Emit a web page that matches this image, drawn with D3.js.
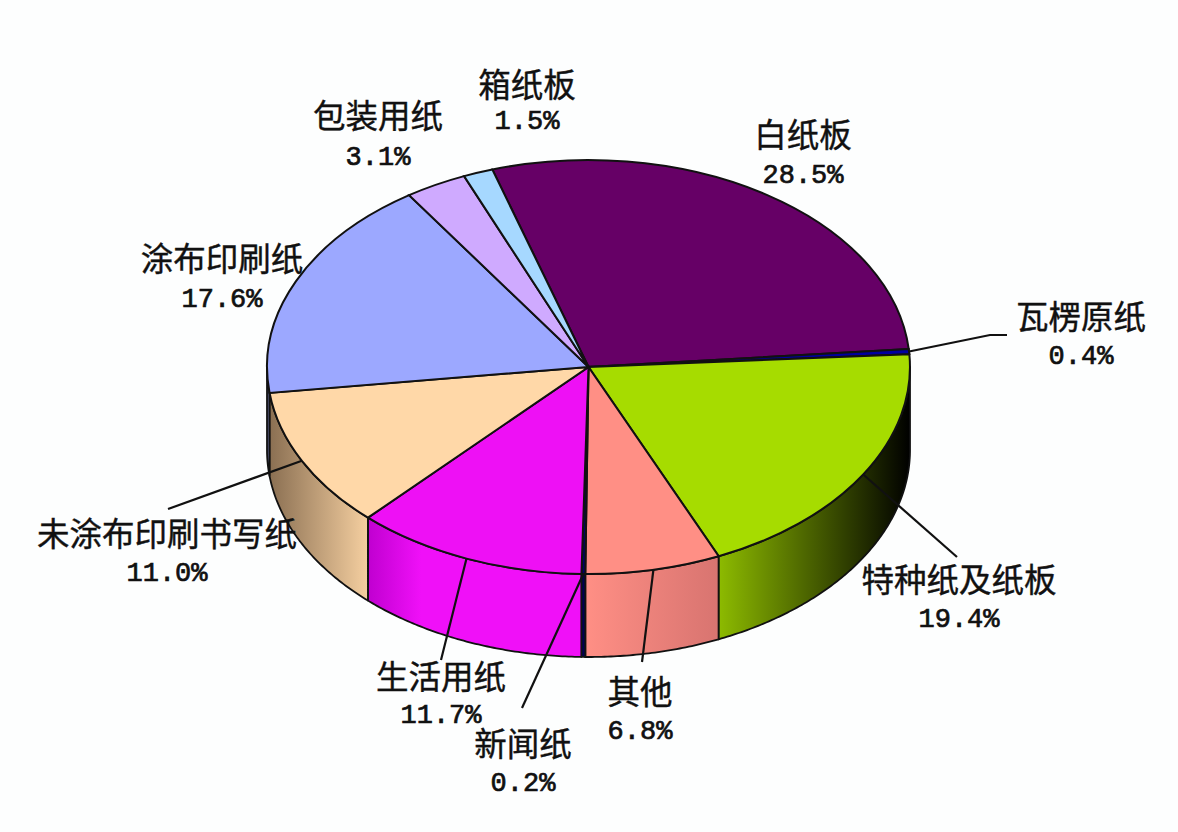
<!DOCTYPE html>
<html>
<head>
<meta charset="utf-8">
<script src="https://cdn.jsdelivr.net/npm/d3@7"></script>
<style>
  html, body { margin: 0; padding: 0; background: #fdfefe; }
  svg { display: block; }
  .name { font-family: "Noto Sans CJK SC", sans-serif; font-size: 32.5px; fill: #111; stroke: #111; stroke-width: 0.4px; }
  .pct { font-family: "Liberation Mono", monospace; font-size: 27px; fill: #111; stroke: #111; stroke-width: 0.7px; }
</style>
</head>
<body>
<script>
var names = ["白纸板", "瓦楞原纸", "特种纸及纸板", "其他", "新闻纸", "生活用纸", "未涂布印刷书写纸", "涂布印刷纸", "包装用纸", "箱纸板"];
var values = [28.5, 0.4, 19.4, 6.8, 0.2, 11.7, 11.0, 17.6, 3.1, 1.5];
var percentLabels = ["28.5%", "0.4%", "19.4%", "6.8%", "0.2%", "11.7%", "11.0%", "17.6%", "3.1%", "1.5%"];

var colors = ["#660066", "#0000a0", "#a6dc00", "#ff8f85", "#000066", "#ee10f5", "#ffd8a8", "#9ca8ff", "#cfaaff", "#a6d8ff"];
// side wall shading, left colour then right colour of each slice
var wallLeft = ["#330033", "#000040", "#8dbb00", "#ff8f85", "#000050", "#c000d0", "#8a6f52", "#4a5080", "#cfaaff", "#a6d8ff"];
var wallRight = ["#000000", "#000000", "#000000", "#d87470", "#000050", "#f010f8", "#f5cfa0", "#6a6f90", "#cfaaff", "#a6d8ff"];

// label centres, name line then percent line
var labelX = [803, 1081, 959, 640, 523, 441, 167, 222, 378, 527];
var nameY = [132, 314, 577, 689, 741, 674, 531, 256, 113, 82];
var pctY = [176, 357, 620, 732, 784, 716, 574, 300, 158, 122];

// leader lines run from the slice rim out to these points (null = no leader)
var leaderEnds = [null, [[990, 335], [1007, 335]], [[957, 557]], [[642, 662]], [[522, 708]], [[441, 660]], [[168, 509]], null, null, null];

var width = 1178;
var height = 832;
var cx = 588.5;
var cy = 367;
var rx = 321.5;
var ry = 207;
var depth = 83;

var svg = d3.select("body").append("svg")
  .attr("width", width)
  .attr("height", height);

var startAngle = -17.4 * Math.PI / 180;
var pie = d3.pie().sort(null).startAngle(startAngle).endAngle(startAngle + 2 * Math.PI);
var slices = pie(values);

function rimX(a) { return cx + rx * Math.sin(a); }
function rimY(a) { return cy - ry * Math.cos(a); }

// gradients for the walls
var defs = svg.append("defs");
var walls = slices.map(function(d, i) {
  var a0 = Math.max(d.startAngle, Math.PI / 2);
  var a1 = Math.min(d.endAngle, 3 * Math.PI / 2);
  if (a1 <= a0) return null;
  var n = Math.max(2, Math.ceil((a1 - a0) / 0.01));
  var angles = d3.range(n + 1).map(function(k) { return a0 + (a1 - a0) * k / n; });
  var xs = d3.extent(angles, rimX);
  var grad = defs.append("linearGradient")
    .attr("id", "wall" + i)
    .attr("gradientUnits", "userSpaceOnUse")
    .attr("x1", xs[0]).attr("x2", xs[1]).attr("y1", 0).attr("y2", 0);
  grad.append("stop").attr("offset", 0).attr("stop-color", wallLeft[i]);
  grad.append("stop").attr("offset", i == 5 ? 0.25 : 1).attr("stop-color", wallRight[i]);
  return { i: i, angles: angles };
}).filter(function(w) { return w; });

var wallArea = d3.area()
  .x(rimX)
  .y0(function(a) { return rimY(a) + depth; })
  .y1(rimY);

svg.append("g").selectAll("path")
  .data(walls)
  .enter().append("path")
  .attr("d", function(w) { return wallArea(w.angles); })
  .style("fill", function(w) { return "url(#wall" + w.i + ")"; })
  .style("stroke", "#111")
  .style("stroke-width", 1.8)
  .style("stroke-linejoin", "round");

// top face
var arc = d3.arc().innerRadius(0).outerRadius(1);
svg.append("g")
  .attr("transform", "translate(" + cx + "," + cy + ") scale(" + rx + "," + ry + ")")
  .selectAll("path")
  .data(slices)
  .enter().append("path")
  .attr("d", arc)
  .attr("vector-effect", "non-scaling-stroke")
  .style("fill", function(d, i) { return colors[i]; })
  .style("stroke", "#111")
  .style("stroke-width", 2);

// leaders
var leaderLine = d3.line();
svg.append("g").selectAll("path")
  .data(slices.map(function(d, i) {
    if (!leaderEnds[i]) return null;
    var mid = (d.startAngle + d.endAngle) / 2;
    return [[rimX(mid), rimY(mid)]].concat(leaderEnds[i]);
  }).filter(function(l) { return l; }))
  .enter().append("path")
  .attr("d", leaderLine)
  .style("fill", "none")
  .style("stroke", "#111")
  .style("stroke-width", 2.2);

// labels
var labels = svg.append("g").attr("text-anchor", "middle");
labels.selectAll("text.name")
  .data(names)
  .enter().append("text")
  .attr("class", "name")
  .attr("x", function(d, i) { return labelX[i]; })
  .attr("y", function(d, i) { return nameY[i]; })
  .attr("dominant-baseline", "central")
  .text(function(d) { return d; });
labels.selectAll("text.pct")
  .data(percentLabels)
  .enter().append("text")
  .attr("class", "pct")
  .attr("x", function(d, i) { return labelX[i]; })
  .attr("y", function(d, i) { return pctY[i]; })
  .attr("dominant-baseline", "central")
  .text(function(d) { return d; });
</script>
</body>
</html>
